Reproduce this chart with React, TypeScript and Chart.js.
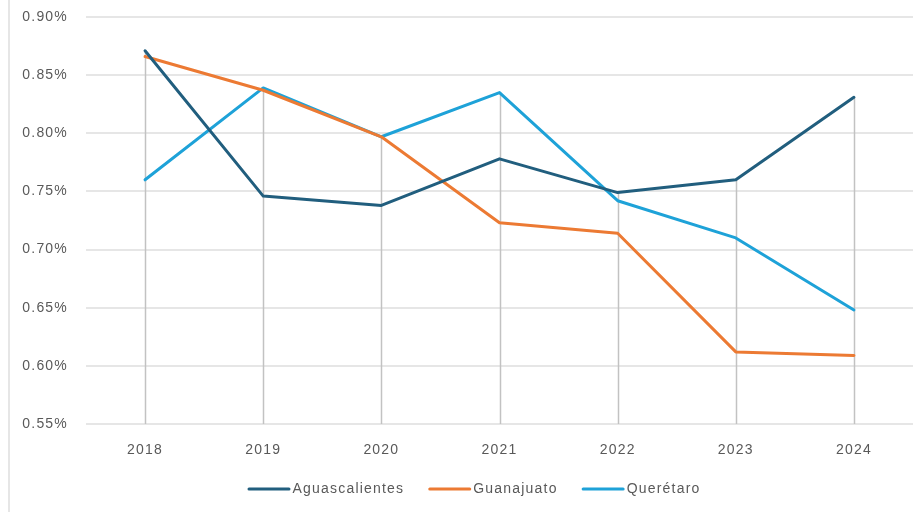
import React, { useEffect, useRef } from "react";
import { Chart, registerables } from "chart.js";

Chart.register(...registerables);

const years = ["2018", "2019", "2020", "2021", "2022", "2023", "2024"];
const aguascalientes = [0.871, 0.746, 0.738, 0.778, 0.749, 0.760, 0.831];
const guanajuato = [0.866, 0.837, 0.797, 0.723, 0.714, 0.612, 0.609];
const queretaro = [0.760, 0.839, 0.797, 0.835, 0.742, 0.710, 0.648];
const seriesNames = ["Aguascalientes", "Guanajuato", "Querétaro"];
const seriesColors = ["#215E7E", "#EC7A33", "#1EA2D8"];
const yMin = 0.55;
const yMax = 0.9;
const yStep = 0.05;

const FONT_FAMILY = "'Liberation Sans', Arial, sans-serif";
const LETTER_SPACING = "1.2px";

const spacing = {
  id: "spacing",
  beforeLayout(chart: any) {
    chart.ctx.letterSpacing = LETTER_SPACING;
  },
  beforeDraw(chart: any) {
    chart.ctx.letterSpacing = LETTER_SPACING;
  },
};

const dropLines = {
  id: "dropLines",
  beforeDatasetsDraw(chart: any) {
    const { ctx, chartArea, scales } = chart;
    const xs = scales.x;
    const ys = scales.y;
    const n = chart.data.labels.length;
    ctx.save();
    ctx.strokeStyle = "#c2c2c2";
    ctx.lineWidth = 1.5;
    for (let i = 0; i < n; i++) {
      let mx = -Infinity;
      chart.data.datasets.forEach((d: any) => {
        if (d.data[i] > mx) mx = d.data[i];
      });
      const x = Math.round(xs.getPixelForValue(i)) + 0.5;
      ctx.beginPath();
      ctx.moveTo(x, ys.getPixelForValue(mx));
      ctx.lineTo(x, chartArea.bottom);
      ctx.stroke();
    }
    ctx.restore();
  },
};

const customLegend = {
  id: "customLegend",
  afterDraw(chart: any) {
    const { ctx } = chart;
    const cy = 489;
    const centerX = 474;
    const lineLen = 43;
    const gapText = 2;
    const gapItem = 24;
    ctx.save();
    ctx.letterSpacing = LETTER_SPACING;
    ctx.font = `14px ${FONT_FAMILY}`;
    const items = chart.data.datasets.map((d: any) => ({
      label: d.label,
      color: d.borderColor,
      w: ctx.measureText(d.label).width,
    }));
    const total =
      items.reduce((a: number, it: any) => a + lineLen + gapText + it.w, 0) +
      gapItem * (items.length - 1);
    let x = centerX - total / 2;
    items.forEach((it: any) => {
      ctx.strokeStyle = it.color;
      ctx.lineWidth = 3;
      ctx.lineCap = "round";
      ctx.beginPath();
      ctx.moveTo(x + 1.5, cy);
      ctx.lineTo(x + lineLen - 1.5, cy);
      ctx.stroke();
      ctx.fillStyle = "#595959";
      ctx.textBaseline = "middle";
      ctx.textAlign = "left";
      ctx.fillText(it.label, x + lineLen + gapText, cy);
      x += lineLen + gapText + it.w + gapItem;
    });
    ctx.restore();
  },
};

export default function App() {
  const ref = useRef<HTMLCanvasElement>(null);
  useEffect(() => {
    if (!ref.current) return;
    const font = { family: FONT_FAMILY, size: 14 };
    const chart = new Chart(ref.current, {
      type: "line",
      data: {
        labels: years,
        datasets: [aguascalientes, guanajuato, queretaro].map((d, i) => ({
          label: seriesNames[i],
          data: d,
          borderColor: seriesColors[i],
          backgroundColor: seriesColors[i],
          borderWidth: 3,
          pointRadius: 0,
          tension: 0,
          borderCapStyle: "round" as const,
          borderJoinStyle: "round" as const,
        })),
      },
      options: {
        animation: false,
        responsive: false,
        layout: { padding: { top: 17, right: 8, bottom: 0, left: 0 } },
        scales: {
          x: {
            offset: true,
            grid: { display: false, drawTicks: false },
            border: { display: false },
            ticks: { color: "#595959", font, padding: 18 },
            afterFit: (s: any) => {
              s.height = 88;
            },
          },
          y: {
            min: yMin,
            max: yMax,
            grid: { color: "#e6e6e6", lineWidth: 2, drawTicks: false },
            border: { display: false },
            ticks: {
              stepSize: yStep,
              color: "#595959",
              font,
              padding: 18,
              callback: (v: any) => Number(v).toFixed(2) + "%",
            },
            afterFit: (s: any) => {
              s.width = 86;
              s.paddingTop = 0;
              s.paddingBottom = 0;
            },
          },
        },
        plugins: {
          legend: { display: false },
          tooltip: { enabled: false },
        },
      },
      plugins: [spacing, dropLines, customLegend],
    });
    return () => chart.destroy();
  }, []);
  return (
    <div style={{ position: "fixed", left: 0, top: 0, width: 921, height: 512, background: "#fff" }}>
      <div style={{ position: "absolute", left: 8, top: 0, width: 2, height: 512, background: "#e6e6e6" }} />
      <canvas ref={ref} width={921} height={512} style={{ position: "absolute", left: 0, top: 0 }} />
    </div>
  );
}
